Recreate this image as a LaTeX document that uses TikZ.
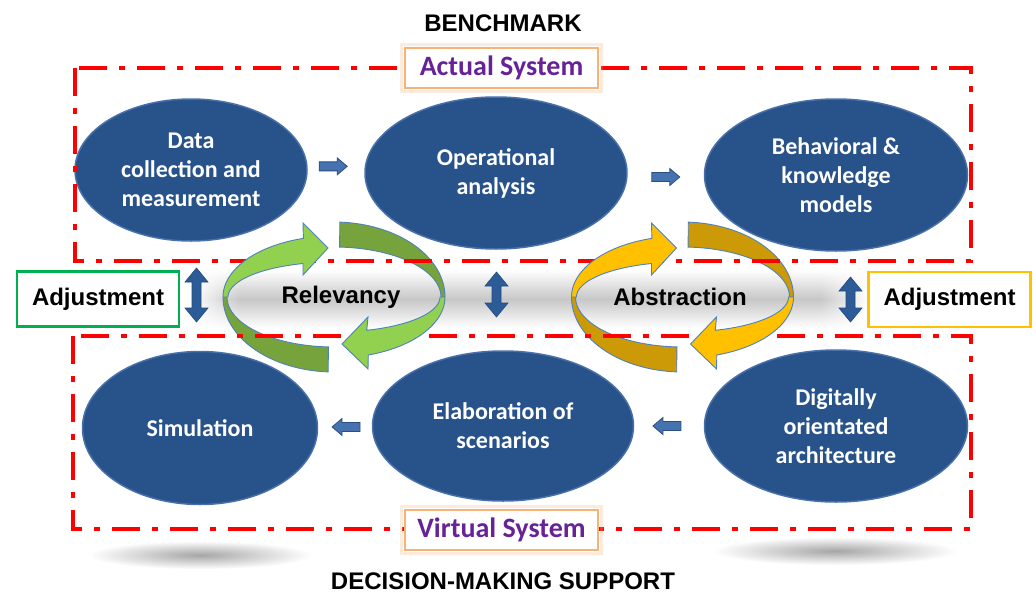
\documentclass[tikz,border=0pt]{standalone}
\usepackage{fontspec}
\setmainfont{Liberation Sans}
\newfontfamily\calib{Carlito}
\usetikzlibrary{shapes.geometric,fadings,calc}

\definecolor{ellblue}{RGB}{40,82,138}
\definecolor{ellrim}{RGB}{72,112,170}
\definecolor{lgreen}{RGB}{146,208,80}
\definecolor{dgreen}{RGB}{118,163,60}
\definecolor{lyellow}{RGB}{255,192,0}
\definecolor{dyellow}{RGB}{204,154,6}
\definecolor{ringline}{RGB}{79,129,189}
\definecolor{sysorange}{RGB}{247,178,120}
\definecolor{syspurple}{RGB}{102,34,150}
\definecolor{adjgreen}{RGB}{0,176,80}
\definecolor{adjyellow}{RGB}{255,192,0}
\definecolor{arrblue}{RGB}{44,92,152}
\definecolor{sarrfill}{RGB}{70,115,175}
\definecolor{sarrline}{RGB}{40,78,130}

\newcommand\mydark[3]{%
 \begin{scope}[shift={(#1,#2)}]
  \path[fill=#3, draw=ringline, line width=0.9pt] plot[domain=87:0,samples=40] ({111*cos(\x)},{-75*sin(\x)}) -- plot[domain=0:87,samples=40] ({107*cos(\x)},{-50*sin(\x)}) -- cycle;
  \path[fill=#3, draw=ringline, line width=0.9pt] plot[domain=180:267,samples=40] ({111*cos(\x)},{-75*sin(\x)}) -- plot[domain=267:180,samples=40] ({107*cos(\x)},{-50*sin(\x)}) -- cycle;
 \end{scope}}

\newcommand\mylight[3]{%
 \begin{scope}[shift={(#1,#2)}]
  \path[fill=#3, draw=ringline, line width=0.9pt] plot[domain=180:106,samples=40] ({111*cos(\x)},{-61*sin(\x)}) -- (-31,-74) -- (-6,-49) -- (-31,-22) -- plot[domain=107:180,samples=40] ({106*cos(\x)},{-35*sin(\x)}) -- cycle;
  \path[fill=#3, draw=ringline, line width=0.9pt] plot[domain=0:-72,samples=40] ({111*cos(\x)},{-61*sin(\x)}) -- (34,72) -- (8,47) -- (34,20) -- plot[domain=-72:0,samples=40] ({106*cos(\x)},{-35*sin(\x)}) -- cycle;
 \end{scope}}

\newcommand\myvd[3]{%
 \path[fill=arrblue, draw=arrblue!80!black, line width=0.6pt] ({#1},{#2-#3}) -- ({#1+11.5},{#2-#3+14}) -- ({#1+4.5},{#2-#3+14}) -- ({#1+4.5},{#2+#3-14}) -- ({#1+11.5},{#2+#3-14}) -- ({#1},{#2+#3}) -- ({#1-11.5},{#2+#3-14}) -- ({#1-4.5},{#2+#3-14}) -- ({#1-4.5},{#2-#3+14}) -- ({#1-11.5},{#2-#3+14}) -- cycle;}

\newcommand\mysa[2]{%
 \begin{scope}[shift={#1}]
  \path[fill=sarrfill, draw=sarrline, line width=0.8pt] ({-14*#2},-4.5) -- ({4*#2},-4.5) -- ({4*#2},-8.5) -- ({14*#2},0) -- ({4*#2},8.5) -- ({4*#2},4.5) -- ({-14*#2},4.5) -- cycle;
 \end{scope}}

\begin{document}
\begin{tikzpicture}[x=1pt,y=-1pt,
  ell/.style={ellipse, fill=ellblue, draw=ellrim, line width=1.5pt, inner sep=0pt, text=white, align=center, font=\calib\bfseries\fontsize{24}{29}\selectfont},
  redbox/.style={draw=red, line width=4.5pt, dash pattern=on 28pt off 12pt on 6pt off 12pt},
  sysbox/.style={fill=white, draw=sysorange, line width=2.5pt, minimum width=193pt, minimum height=40pt, inner sep=0pt, text=syspurple, font=\calib\bfseries\fontsize{28}{32}\selectfont},
  sysglow/.style={draw=sysorange, line width=3pt, opacity=0.25},
  adjbox/.style={fill=white, line width=2.5pt, minimum width=162pt, minimum height=55pt, inner sep=0pt, font=\bfseries\fontsize{24}{28}\selectfont},
  title/.style={font=\bfseries\fontsize{24}{28}\selectfont, inner sep=0pt},
  shadowell/.style={inner color=black!35, outer color=white}
]
\useasboundingbox (0,0) rectangle (1036,594);
\fill[white] (0,0) rectangle (1036,594);

% shadows
\shade[shadowell] (200,555) ellipse (112pt and 14pt);
\shade[shadowell] (835,551) ellipse (122pt and 14pt);
% middle gray band
\shade[top color=white, bottom color=white, middle color=black!22, path fading=west] (190,270) rectangle (240,328);
\shade[top color=white, bottom color=white, middle color=black!22] (240,270) rectangle (820,328);
\shade[top color=white, bottom color=white, middle color=black!22, path fading=east] (820,270) rectangle (868,328);

% ellipses
\node[ell, minimum width=232pt, minimum height=142pt] (data) at (191,170) {Data\\collection and\\measurement};
\node[ell, minimum width=262pt, minimum height=152pt] (oper) at (496,173) {Operational\\analysis};
\node[ell, minimum width=263pt, minimum height=152pt] (behav) at (836,175) {Behavioral \&\\knowledge\\models};
\node[ell, minimum width=235pt, minimum height=153pt] (sim) at (200,428) {Simulation};
\node[ell, minimum width=261pt, minimum height=150pt] (elab) at (503,426) {Elaboration of\\scenarios};
\node[ell, minimum width=263pt, minimum height=152pt] (digi) at (836,426) {Digitally\\orientated\\architecture};

% back bands of the cycles
\mydark{334}{297}{dgreen}
\mydark{682.5}{297}{dyellow}

% red frames
\draw[redbox] (75,68) rectangle (971,261);
\draw[redbox] (73,336) rectangle (971,529);

% system boxes
\node[sysbox] (actual) at (501.5,68) {Actual System};
\draw[sysglow] ($(actual.south west)+(-2.5,2.5)$) rectangle ($(actual.north east)+(2.5,-2.5)$);
\node[sysbox] (virtual) at (501.5,530) {Virtual System};
\draw[sysglow] ($(virtual.south west)+(-2.5,2.5)$) rectangle ($(virtual.north east)+(2.5,-2.5)$);

% front arrows of the cycles
\mylight{334}{297}{lgreen}
\mylight{682.5}{297}{lyellow}

% small flow arrows
\mysa{($(data.east)!0.45!(oper.west)+(0,-5)$)}{1}
\mysa{($(oper.east)!0.5!(behav.west)+(0,3)$)}{1}
\mysa{($(sim.east)!0.52!(elab.west)$)}{-1}
\mysa{($(elab.east)!0.47!(digi.west)$)}{-1}

% vertical double arrows
\myvd{196.5}{295}{27}
\myvd{496.5}{294.5}{22.5}
\myvd{850.5}{299.5}{22.5}

% adjustment boxes
\node[adjbox, draw=adjgreen] (adjl) at (98,299) {Adjustment};
\node[adjbox, draw=adjyellow] (adjr) at (949.5,299.5) {Adjustment};

% labels
\node[title] (bench) at (503,23) {BENCHMARK};
\node[title] (dms) at (503,581) {DECISION-MAKING SUPPORT};
\node[title] (rel) at (341,297) {Relevancy};
\node[title] (abs) at (680,297) {Abstraction};
\end{tikzpicture}
\end{document}
